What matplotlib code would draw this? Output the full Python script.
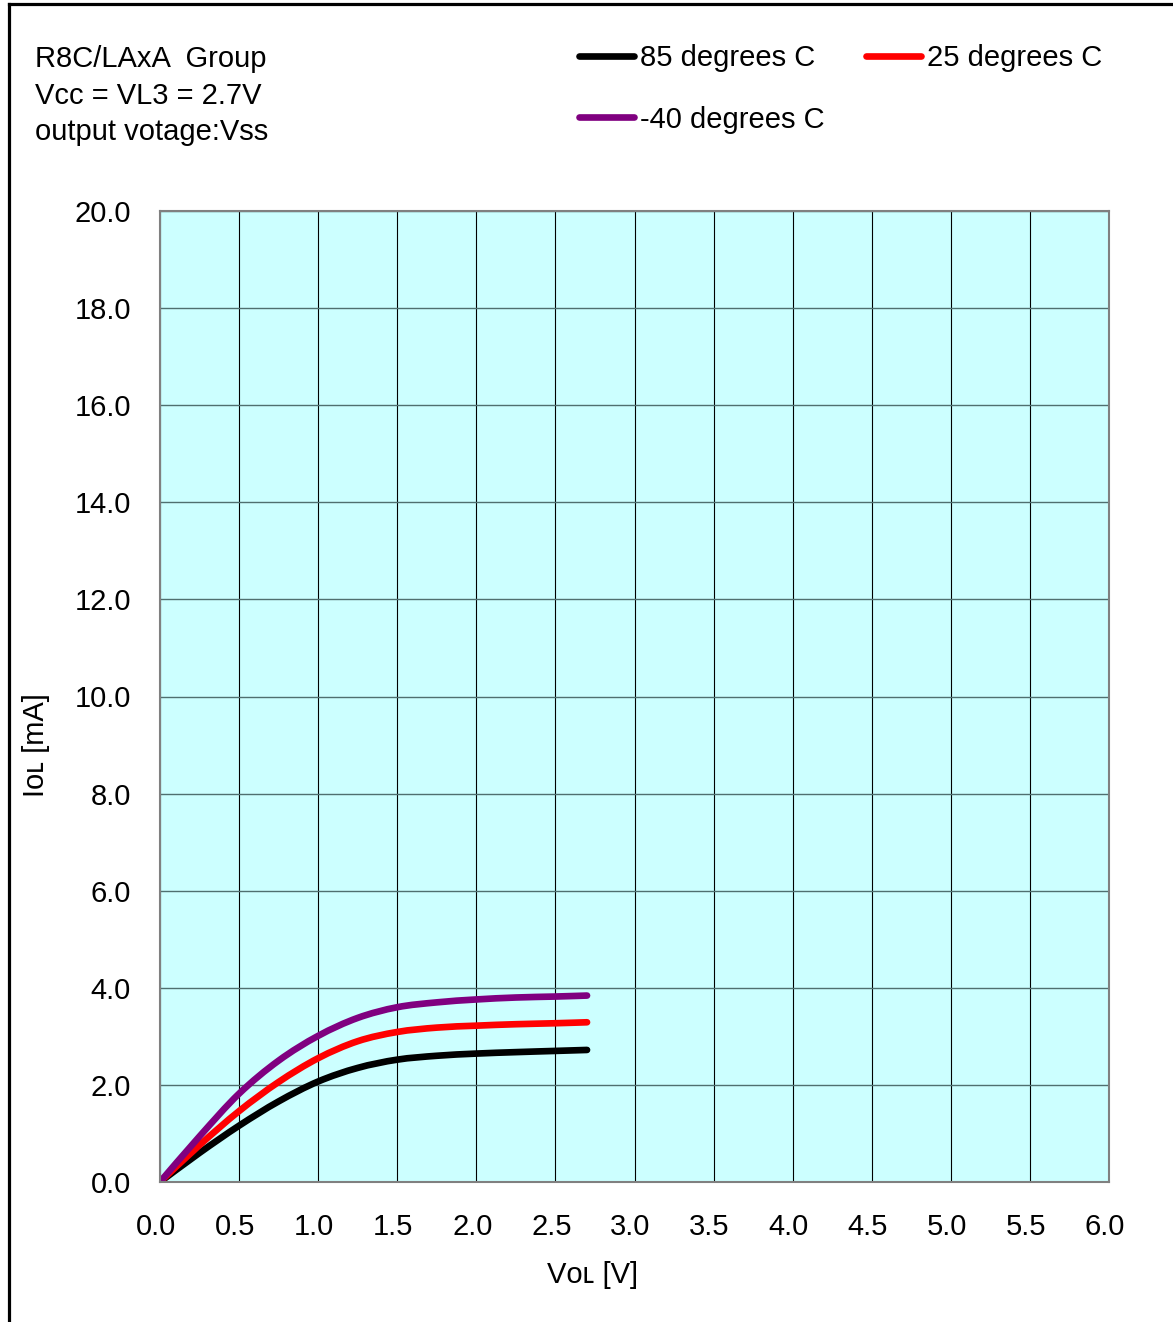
import matplotlib
matplotlib.use("Agg")
import matplotlib.pyplot as plt
import matplotlib.transforms as mtransforms
from matplotlib.lines import Line2D
from matplotlib.path import Path
from matplotlib.patches import PathPatch

plt.rcParams['font.family'] = ['Liberation Sans', 'DejaVu Sans']

# V_OL [V] sample points
vol = [0.0, 0.25, 0.5, 0.75, 1.0, 1.25, 1.5, 1.75, 2.0, 2.25, 2.5, 2.7]

# I_OL [mA] for each temperature
iol_85 = [0.0, 0.60, 1.16, 1.66, 2.07, 2.35, 2.52, 2.60, 2.645, 2.675, 2.70, 2.72]
iol_25 = [0.0, 0.76, 1.46, 2.06, 2.55, 2.90, 3.09, 3.18, 3.22, 3.25, 3.27, 3.29]
iol_m40 = [0.0, 0.94, 1.82, 2.50, 3.01, 3.38, 3.60, 3.70, 3.76, 3.80, 3.82, 3.84]

x_ticks = [0.0, 0.5, 1.0, 1.5, 2.0, 2.5, 3.0, 3.5, 4.0, 4.5, 5.0, 5.5, 6.0]
y_ticks = [0.0, 2.0, 4.0, 6.0, 8.0, 10.0, 12.0, 14.0, 16.0, 18.0, 20.0]

FS = 21


def smooth_path(xs, ys):
    """Excel-style smoothed line: cubic Bezier through the points."""
    pts = list(zip(xs, ys))
    verts = [pts[0]]
    codes = [Path.MOVETO]
    n = len(pts)
    for i in range(n - 1):
        p0 = pts[max(i - 1, 0)]
        p1 = pts[i]
        p2 = pts[i + 1]
        p3 = pts[min(i + 2, n - 1)]
        c1 = (p1[0] + (p2[0] - p0[0]) / 6, p1[1] + (p2[1] - p0[1]) / 6)
        c2 = (p2[0] - (p3[0] - p1[0]) / 6, p2[1] - (p3[1] - p1[1]) / 6)
        verts += [c1, c2, p2]
        codes += [Path.CURVE4] * 3
    return Path(verts, codes)


W, H = 1173, 1322
fig = plt.figure(figsize=(W / 100, H / 100), dpi=100)
ax = fig.add_axes([160 / W, 1 - 1182 / H, (1109 - 160) / W, (1182 - 211) / H])
ax.set_facecolor('#ccffff')

ax.set_xlim(0, 6)
ax.set_ylim(0, 20)
ax.set_xticks(x_ticks)
ax.set_yticks(y_ticks)
ax.set_xticklabels([f"{t:.1f}" for t in x_ticks])
ax.set_yticklabels([f"{t:.1f}" for t in y_ticks])
ax.tick_params(axis='x', length=0, pad=22, labelsize=FS)
ax.tick_params(axis='y', length=0, pad=21, labelsize=FS)
shift = mtransforms.ScaledTranslation(-4 / 100, 0, fig.dpi_scale_trans)
for lab in ax.get_xticklabels():
    lab.set_transform(lab.get_transform() + shift)

# grid: dark vertical lines, grey-ish horizontal lines
ax.grid(axis='x', color='black', linewidth=0.8)
ax.grid(axis='y', color='#4f6f6f', linewidth=1.0)
ax.set_axisbelow(True)
for s in ax.spines.values():
    s.set_color('#808080')
    s.set_linewidth(1.5)

series = [
    (iol_85, 'black', '85 degrees C'),
    (iol_25, '#ff0000', '25 degrees C'),
    (iol_m40, '#800080', '-40 degrees C'),
]
handles = {}
for ys, color, label in series:
    patch = PathPatch(smooth_path(vol, ys), transform=ax.transData, fill=False,
                      edgecolor=color, linewidth=4.8, capstyle='round', joinstyle='round')
    ax.add_patch(patch)
    handles[label], = ax.plot([], [], color=color, linewidth=4.8,
                              solid_capstyle='round', label=label)

fig.legend(handles=[handles['85 degrees C'], handles['-40 degrees C'], handles['25 degrees C']],
           ncol=2, frameon=False, fontsize=FS,
           loc='upper left', bbox_to_anchor=(579 / W, 1 - 44 / H),
           handlelength=1.9, handletextpad=0.2, columnspacing=1.4,
           labelspacing=1.15, borderaxespad=0, borderpad=0)

ax.set_xlabel("V\u1d0f\u029f [V]", fontsize=FS)
ax.xaxis.set_label_coords((593 - 160) / (1109 - 160), -(1275 - 1182) / (1182 - 211))
ax.set_ylabel("I\u1d0f\u029f [mA]", fontsize=FS)
ax.yaxis.set_label_coords(-(160 - 36) / (1109 - 160), (1182 - 745) / (1182 - 211))
ax.xaxis.label.set_va('center')
ax.yaxis.label.set_va('center')

# header text
fig.text(35 / W, 1 - 59 / H, "R8C/LAxA  Group", fontsize=FS, va='center')
fig.text(35 / W, 1 - 96 / H, "Vcc = VL3 = 2.7V", fontsize=FS, va='center')
fig.text(35 / W, 1 - 132 / H, "output votage:Vss", fontsize=FS, va='center')

# outer frame lines (left and top)
fig.add_artist(Line2D([8.5 / W, 8.5 / W], [0, 1 - 4 / H], color='black', linewidth=2.3))
fig.add_artist(Line2D([8.5 / W, 1], [1 - 4 / H, 1 - 4 / H], color='black', linewidth=2.3))

fig.savefig('out.png', dpi=100)
